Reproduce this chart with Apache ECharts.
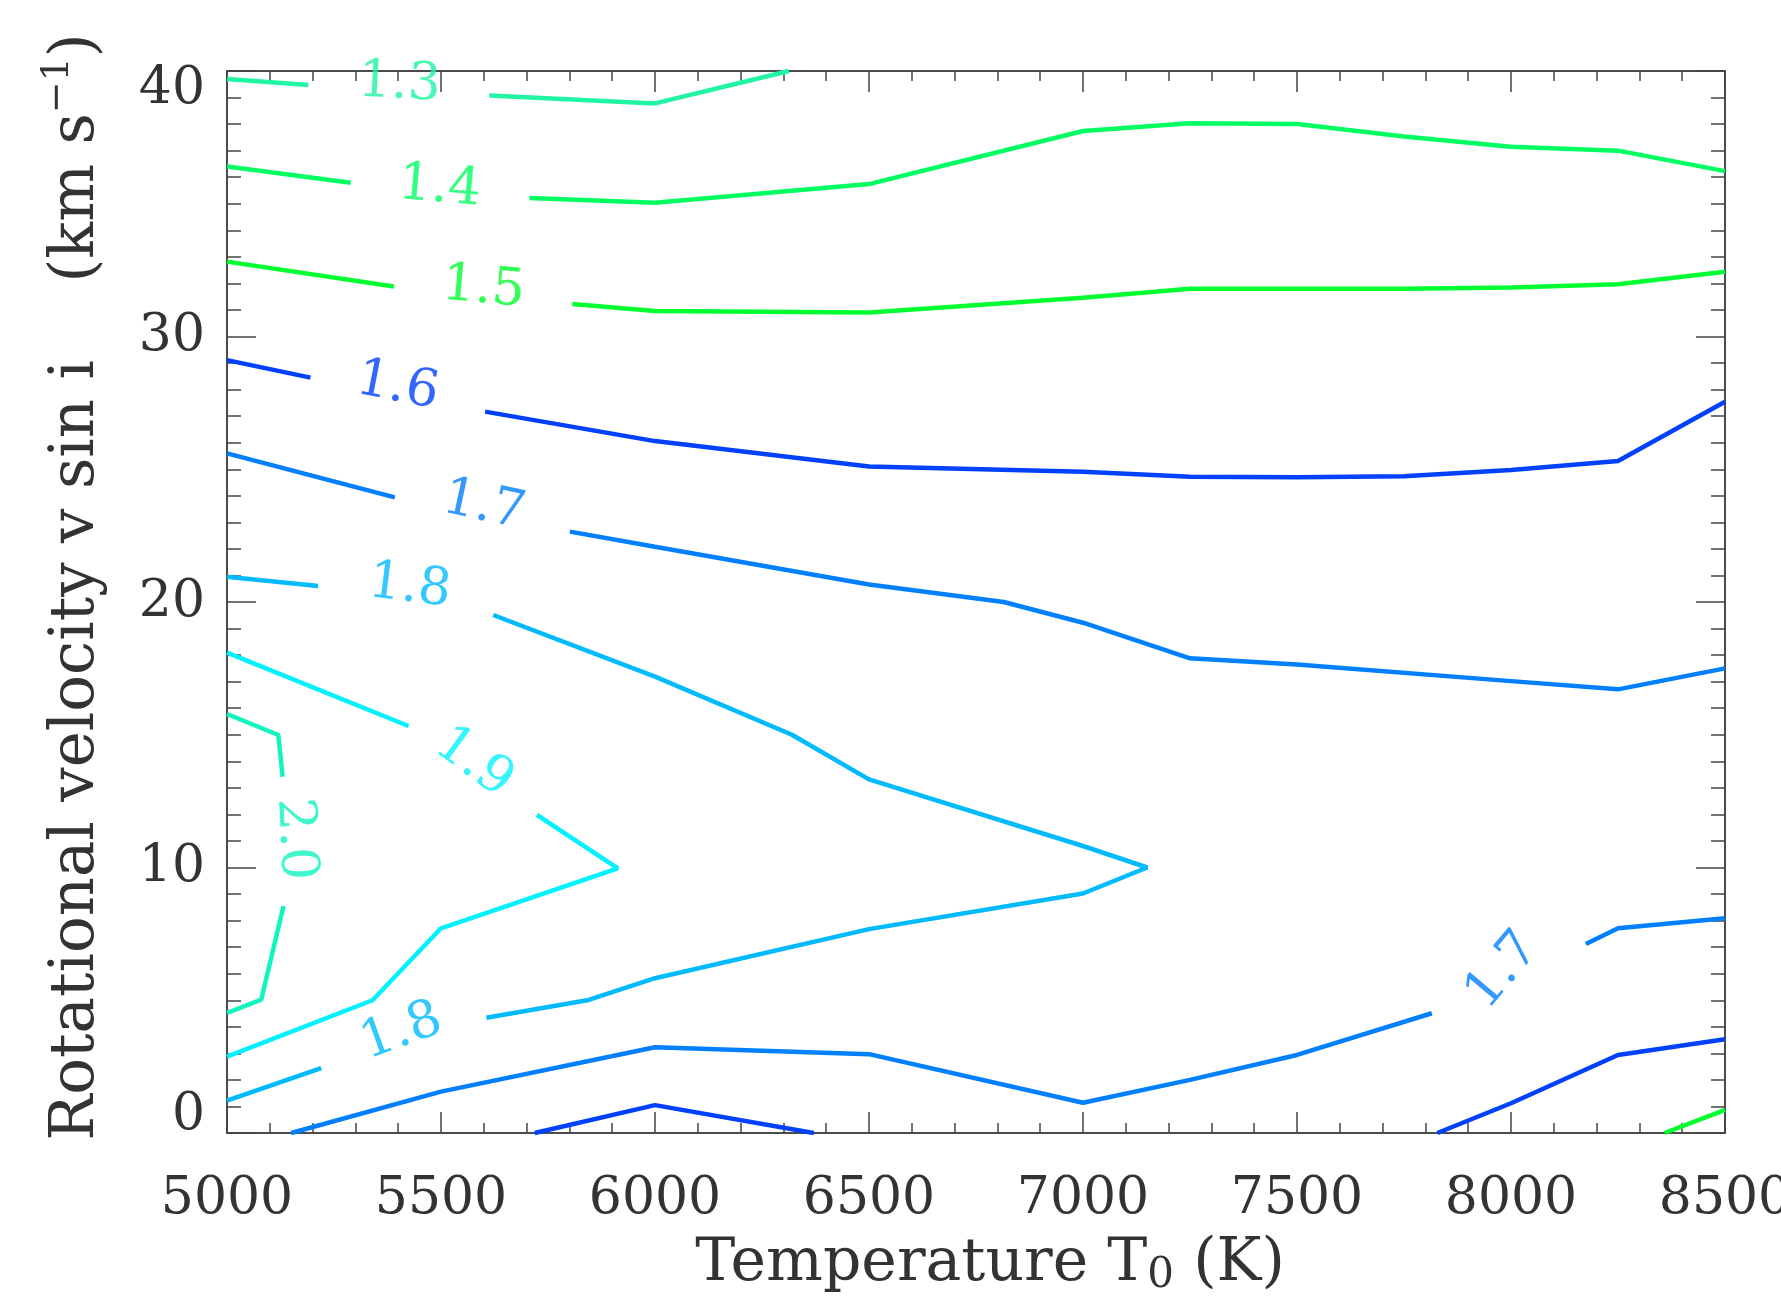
<!DOCTYPE html>
<html>
<head>
<meta charset="utf-8">
<script src="https://cdn.jsdelivr.net/npm/echarts@6/dist/echarts.min.js"></script>
<style>
html,body{margin:0;padding:0;background:#fff;}
#chart{width:1781px;height:1297px;}
</style>
</head>
<body>
<div id="chart"></div>
<script>
// ---- data: contour segments [Temperature K, vsini km/s] ----
const lev13a = [[5000,39.70],[5190,39.47]];
const lev13b = [[5613,39.08],[6000,38.78],[6313,40]];

const lev14a = [[5000,36.40],[5289,35.79]];
const lev14b = [[5707,35.22],[6000,35.04],[6500,35.74],[7000,37.74],[7250,38.03],[7500,38.00],[7750,37.53],[8000,37.15],[8250,37.00],[8500,36.23]];

const lev15a = [[5000,32.82],[5390,31.88]];
const lev15b = [[5807,31.22],[6000,30.96],[6500,30.90],[7000,31.46],[7250,31.80],[7500,31.80],[7750,31.80],[8000,31.85],[8250,31.97],[8500,32.44]];
const lev15c = [[8359,0],[8500,0.87]];

const lev16a = [[5000,29.11],[5195,28.45]];
const lev16b = [[5603,27.17],[6000,26.06],[6500,25.10],[7000,24.91],[7250,24.72],[7500,24.70],[7750,24.74],[8000,24.97],[8250,25.31],[8500,27.54]];
const lev16c = [[5719,0],[6000,1.05],[6371,0]];
const lev16d = [[7828,0],[8000,1.12],[8250,2.94],[8500,3.53]];

const lev17a = [[5000,25.60],[5392,23.94]];
const lev17b = [[5801,22.65],[6000,22.08],[6500,20.66],[6815,20.00],[7000,19.22],[7250,17.88],[7500,17.65],[8000,17.02],[8250,16.71],[8500,17.50]];
const lev17c = [[5150,0],[5500,1.56],[6000,3.23],[6500,2.97],[7000,1.14],[7250,2.00],[7500,2.94],[7815,4.51]];
const lev17d = [[8175,7.12],[8250,7.71],[8500,8.09]];

const lev18a = [[5000,20.95],[5213,20.60]];
const lev18b = [[5622,19.51],[6000,17.19],[6320,15.00],[6500,13.32],[7000,10.81],[7150,10.00],[7000,9.02],[6500,7.68],[6000,5.83],[5845,5.01],[5606,4.34]];
const lev18c = [[5220,2.44],[5000,1.22]];

const lev19a = [[5000,18.09],[5424,15.33]];
const lev19b = [[5724,11.98],[5913,9.97],[5500,7.71],[5340,5.00],[5000,2.88]];

const lev20a = [[5000,15.78],[5120,14.99],[5130,13.42]];
const lev20b = [[5132,8.55],[5080,5.02],[5000,4.52]];

// contour labels: text, T, vsini
const labelText = ['1.3','1.4','1.5','1.6','1.7','1.8','1.9','2.0','1.8','1.7'];
const labelT    = [5403, 5497, 5599, 5398, 5600, 5427, 5576, 5158, 5408, 7982];
const labelV    = [39.5, 35.6, 31.8, 28.1, 23.6, 20.55, 13.94, 11.07, 3.8, 6.1];
const labelAngle = [-3, -5, -5, -11, -12, -7, -36, -87, 20, 50];

const xTicks = [5000, 5500, 6000, 6500, 7000, 7500, 8000, 8500];
const yTicks = [0, 10, 20, 30, 40];

// ---- styles ----
const colors = {
  '1.3': '#1ff5a2', '1.4': '#00ff60', '1.5': '#00ff30', '1.6': '#0040ff',
  '1.7': '#0080ff', '1.8': '#00baff', '1.9': '#00f2ff', '2.0': '#10f5c0'
};
const FONT = '"DejaVu Serif", "Liberation Serif", serif';
const TXT = '#333';

const segs = [
  ['1.3', lev13a], ['1.3', lev13b],
  ['1.4', lev14a], ['1.4', lev14b],
  ['1.5', lev15a], ['1.5', lev15b], ['1.5', lev15c],
  ['1.6', lev16a], ['1.6', lev16b], ['1.6', lev16c], ['1.6', lev16d],
  ['1.7', lev17a], ['1.7', lev17b], ['1.7', lev17c], ['1.7', lev17d],
  ['1.8', lev18a], ['1.8', lev18b], ['1.8', lev18c],
  ['1.9', lev19a], ['1.9', lev19b],
  ['2.0', lev20a], ['2.0', lev20b]
];

const series = segs.map(([lev, d]) => ({
  type: 'line', data: d, showSymbol: false, symbol: 'none', clip: true,
  lineStyle: { color: colors[lev], width: 4.5 }, silent: true, animation: false
}));

series.push({
  type: 'scatter', symbolSize: 0, silent: true, animation: false,
  data: labelText.map((t, i) => ({
    name: t, value: [labelT[i], labelV[i]],
    label: { rotate: labelAngle[i], color: colors[t] }
  })),
  label: {
    show: true, position: 'inside', formatter: p => p.name,
    fontFamily: FONT, fontSize: 52
  }
});

const tickStyle = { color: '#444', width: 1.5 };
const lineStyle = { color: '#111', width: 1.5 };

function xAx(pos, showLabels) {
  return {
    type: 'value', position: pos, min: xTicks[0], max: xTicks[xTicks.length-1], interval: 500,
    axisLine: { show: true, onZero: false, lineStyle },
    axisTick: { show: true, inside: true, length: 21, lineStyle: tickStyle },
    minorTick: { show: true, splitNumber: 5, length: 10, lineStyle: tickStyle },
    splitLine: { show: false }, minorSplitLine: { show: false },
    axisLabel: { show: showLabels, fontFamily: FONT, fontSize: 52, color: TXT, margin: 40,
      formatter: v => String(v) },
    name: showLabels ? '{t0|Temperature T}{sub|0}{t| (K)}' : '',
    nameLocation: 'middle', nameGap: 98,
    nameTextStyle: { fontFamily: FONT, color: TXT,
      rich: { t0: { fontFamily: FONT, fontSize: 60, color: TXT, lineHeight: 66, padding: [0, 0, 0, 28] },
              t: { fontFamily: FONT, fontSize: 60, color: TXT, lineHeight: 66 },
              sub: { fontFamily: FONT, fontSize: 42, color: TXT, lineHeight: 32, verticalAlign: 'bottom' } } }
  };
}
function yAx(pos, showLabels) {
  return {
    type: 'value', position: pos, min: yTicks[0], max: yTicks[yTicks.length-1], interval: 10,
    axisLine: { show: true, onZero: false, lineStyle },
    axisTick: { show: true, inside: true, length: 29, lineStyle: tickStyle },
    minorTick: { show: true, splitNumber: 10, length: 14, lineStyle: tickStyle },
    splitLine: { show: false }, minorSplitLine: { show: false },
    axisLabel: { show: showLabels, fontFamily: FONT, fontSize: 52, color: TXT, margin: 22,
      lineHeight: 36, verticalAlignMinLabel: 'bottom', verticalAlignMaxLabel: 'top' },
    name: showLabels ? '{a0|Rotational velocity v sin i    (km s}{sup|\u22121}{a|)}' : '',
    nameLocation: 'middle', nameRotate: 90, nameGap: 112,
    nameTextStyle: { fontFamily: FONT, color: TXT,
      rich: { a0: { fontFamily: FONT, fontSize: 61, color: TXT, lineHeight: 76, padding: [0, 0, 0, 30] },
              a: { fontFamily: FONT, fontSize: 61, color: TXT, lineHeight: 76 },
              sup: { fontFamily: FONT, fontSize: 38, color: TXT, lineHeight: 32, verticalAlign: 'top' } } }
  };
}

const chart = echarts.init(document.getElementById('chart'), null, { renderer: 'canvas' });
chart.setOption({
  backgroundColor: '#fff',
  animation: false,
  grid: { left: 227, top: 71, width: 1498, height: 1062, containLabel: false, outerBoundsMode: 'none' },
  xAxis: [xAx('bottom', true), xAx('top', false)],
  yAxis: [yAx('left', true), yAx('right', false)],
  series: series
});
</script>
</body>
</html>
